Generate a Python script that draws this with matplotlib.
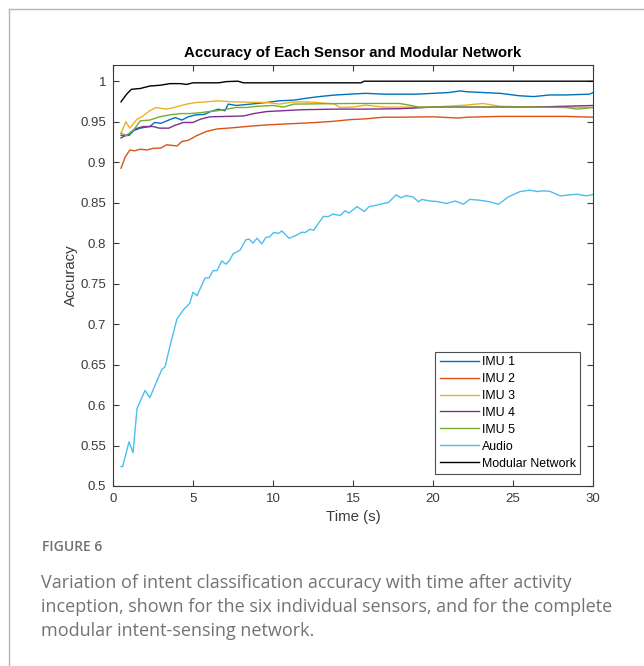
import matplotlib
matplotlib.use('Agg')
import matplotlib.pyplot as plt
from matplotlib.lines import Line2D

plt.rcParams['font.family'] = ['Liberation Sans', 'DejaVu Sans']

# Values (time in s, accuracy)
imu1_t = [0.5, 1.0, 1.3, 1.7, 2.3, 2.6, 3.0, 3.6, 3.9, 4.3, 4.7, 5.2, 5.7, 6.1, 6.6, 7.0, 7.2, 7.7, 8.6, 9.6,
          10.4, 11.3, 12.1, 12.9, 13.8, 14.8, 15.8, 16.9, 17.9, 19.0, 20.0, 21.0, 21.7, 22.1, 23.1, 24.2, 25.4,
          26.3, 27.3, 28.3, 29.8, 30.0]
imu1_acc = [0.933, 0.933, 0.939, 0.942, 0.944, 0.949, 0.948, 0.953, 0.955, 0.952, 0.956, 0.9585, 0.959, 0.9625,
            0.9655, 0.9635, 0.9717, 0.970, 0.9717, 0.9737, 0.9758, 0.9766, 0.979, 0.981, 0.9828, 0.984, 0.985,
            0.984, 0.984, 0.984, 0.985, 0.986, 0.988, 0.987, 0.986, 0.985, 0.982, 0.981, 0.983, 0.983, 0.984, 0.986]

imu2_t = [0.5, 0.75, 1.05, 1.35, 1.7, 2.1, 2.5, 3.0, 3.35, 4.0, 4.3, 4.7, 5.2, 5.85, 6.5, 7.5, 8.6, 9.6, 10.6,
          11.7, 12.7, 13.8, 14.8, 15.8, 16.9, 17.9, 20.0, 21.6, 22.1, 24.2, 26.3, 28.3, 30.0]
imu2_acc = [0.8925, 0.906, 0.915, 0.914, 0.916, 0.915, 0.917, 0.9175, 0.9215, 0.920, 0.9255, 0.927, 0.9325, 0.938,
            0.941, 0.9425, 0.9445, 0.946, 0.947, 0.948, 0.949, 0.9505, 0.9525, 0.9535, 0.9555, 0.9555, 0.956,
            0.9545, 0.9555, 0.9565, 0.9565, 0.9565, 0.9555]

imu3_t = [0.5, 0.8, 1.05, 1.5, 1.8, 2.3, 2.7, 3.35, 3.8, 4.6, 5.2, 5.85, 6.5, 7.5, 8.6, 9.6, 10.4, 11.1, 11.7,
          12.5, 13.8, 14.2, 15.0, 15.8, 16.9, 17.9, 20.0, 22.1, 23.1, 24.2, 26.3, 28.3, 30.0]
imu3_acc = [0.9356, 0.950, 0.942, 0.953, 0.956, 0.9635, 0.9675, 0.9655, 0.9675, 0.9717, 0.9737, 0.9745, 0.9758,
            0.9745, 0.974, 0.9737, 0.9717, 0.974, 0.9745, 0.974, 0.972, 0.9675, 0.968, 0.9705, 0.968, 0.968,
            0.968, 0.9705, 0.9725, 0.969, 0.968, 0.968, 0.9675]

imu4_t = [0.5, 1.0, 1.35, 1.9, 2.5, 2.9, 3.5, 3.8, 4.4, 5.0, 5.45, 6.05, 7.1, 8.15, 8.8, 9.6, 10.6, 11.7,
          13.8, 15.8, 17.9, 20.0, 22.1, 24.2, 26.3, 30.0]
imu4_acc = [0.930, 0.935, 0.941, 0.944, 0.944, 0.942, 0.942, 0.945, 0.949, 0.949, 0.953, 0.956, 0.9565, 0.957,
            0.960, 0.9625, 0.9635, 0.9647, 0.9655, 0.9655, 0.966, 0.968, 0.968, 0.968, 0.968, 0.970]

imu5_t = [0.5, 0.85, 1.3, 1.7, 2.3, 2.9, 3.6, 4.2, 4.8, 5.4, 6.0, 6.5, 7.1, 7.7, 8.35, 9.0, 10.0, 10.65, 11.3,
          12.7, 14.8, 17.9, 18.5, 19.1, 20.0, 22.1, 26.3, 28.3, 29.0, 30.0]
imu5_acc = [0.9356, 0.9327, 0.940, 0.951, 0.952, 0.956, 0.9585, 0.960, 0.960, 0.961, 0.9625, 0.9635, 0.9655,
            0.9675, 0.9675, 0.969, 0.970, 0.968, 0.9717, 0.972, 0.9725, 0.9725, 0.9705, 0.968, 0.968, 0.968,
            0.968, 0.9675, 0.9655, 0.9675]

audio_t = [0.5, 0.6, 1.0, 1.25, 1.5, 2.0, 2.3, 2.75, 3.05, 3.25, 3.55, 4.0, 4.4, 4.8, 5.0, 5.25, 5.75, 6.0,
           6.25, 6.5, 6.8, 7.05, 7.3, 7.5, 7.95, 8.3, 8.5, 8.75, 9.0, 9.3, 9.55, 9.8, 10.05, 10.35, 10.55, 11.0,
           11.5, 11.8, 12.0, 12.3, 12.55, 12.85, 13.15, 13.45, 13.75, 14.2, 14.5, 14.75, 15.25, 15.7, 16.0, 16.5,
           16.9, 17.2, 17.7, 18.0, 18.3, 18.75, 19.1, 19.3, 19.8, 20.2, 20.85, 21.4, 21.9, 22.3, 22.9, 23.55,
           24.1, 24.7, 25.45, 26.05, 26.5, 26.9, 27.3, 27.95, 28.3, 29.0, 29.6, 30.0]
audio_acc = [0.524, 0.524, 0.5546, 0.541, 0.5957, 0.618, 0.609, 0.630, 0.644, 0.647, 0.672, 0.7065, 0.7176,
             0.7258, 0.7393, 0.735, 0.757, 0.757, 0.766, 0.766, 0.778, 0.774, 0.779, 0.7866, 0.7915, 0.804,
             0.805, 0.800, 0.806, 0.799, 0.807, 0.808, 0.8132, 0.812, 0.815, 0.806, 0.810, 0.8135, 0.813, 0.817,
             0.816, 0.8247, 0.833, 0.8327, 0.836, 0.834, 0.840, 0.837, 0.8452, 0.839, 0.845, 0.847, 0.849, 0.850,
             0.8596, 0.856, 0.8586, 0.857, 0.851, 0.854, 0.852, 0.8515, 0.849, 0.852, 0.848, 0.854, 0.853, 0.851,
             0.848, 0.857, 0.8637, 0.8654, 0.8637, 0.8646, 0.864, 0.8584, 0.859, 0.8604, 0.8584, 0.860]

modular_t = [0.5, 0.85, 1.15, 1.7, 2.3, 2.95, 3.55, 4.2, 4.6, 5.0, 5.8, 6.6, 7.1, 7.8, 8.15, 9.0, 12.0, 15.5,
             15.7, 20.0, 25.0, 30.0]
modular_acc = [0.9745, 0.984, 0.990, 0.991, 0.994, 0.995, 0.997, 0.997, 0.996, 0.998, 0.998, 0.998, 0.9995,
               1.0, 0.998, 0.998, 0.998, 0.998, 1.0, 1.0, 1.0, 1.0]

series = [
    ('IMU 1', imu1_t, imu1_acc, '#0072BD'),
    ('IMU 2', imu2_t, imu2_acc, '#D95319'),
    ('IMU 3', imu3_t, imu3_acc, '#EDB120'),
    ('IMU 4', imu4_t, imu4_acc, '#7E2F8E'),
    ('IMU 5', imu5_t, imu5_acc, '#77AC30'),
    ('Audio', audio_t, audio_acc, '#4DBEEE'),
    ('Modular Network', modular_t, modular_acc, '#000000'),
]

axis_col = '#3a3a3a'

fig = plt.figure(figsize=(6.44, 6.66), dpi=100)
ax = fig.add_axes([0.1755, 0.2703, 0.7453, 0.6321])

for name, t, acc, col in series:
    ax.plot(t, acc, color=col, lw=1.0, label=name)

ax.set_xlim(0, 30)
ax.set_ylim(0.5, 1.02)
ax.set_xticks(range(0, 31, 5))
yt = [0.5 + 0.05 * i for i in range(11)]
ax.set_yticks(yt)
ax.set_yticklabels(['0.5', '0.55', '0.6', '0.65', '0.7', '0.75', '0.8', '0.85', '0.9', '0.95', '1'])
ax.tick_params(direction='in', length=4, width=0.8, top=True, right=True, pad=5,
               labelsize=9.5, colors=axis_col, labelcolor=axis_col)
for sp in ax.spines.values():
    sp.set_color(axis_col)
    sp.set_linewidth(0.8)

ax.set_title('Accuracy of Each Sensor and Modular Network', fontsize=10.8, fontweight='bold', pad=6)
ax.set_xlabel('Time (s)', fontsize=10.8, color=axis_col, labelpad=4)
ax.set_ylabel('Accuracy', fontsize=10.8, color=axis_col, labelpad=2)

leg = ax.legend(loc='lower right', bbox_to_anchor=(0.973, 0.0285), borderaxespad=0,
                fontsize=8.9, handlelength=3.2, handletextpad=0.2, labelspacing=0.4,
                fancybox=False, frameon=True, borderpad=0.35)
leg.get_frame().set_edgecolor('#222222')
leg.get_frame().set_linewidth(0.8)

# card border (top and left edges)
fig.add_artist(Line2D([9 / 644, 1.0], [1 - 9 / 666, 1 - 9 / 666], color='#b5b5b5', lw=1.0))
fig.add_artist(Line2D([9 / 644, 9 / 644], [0.0, 1 - 9 / 666], color='#b5b5b5', lw=1.0))

# caption
fig.text(42 / 644, 1 - 547 / 666, 'FIGURE 6', fontsize=10, color='#707070', fontweight='semibold',
         family=['Open Sans', 'DejaVu Sans'], va='center')
caption = ('Variation of intent classification accuracy with time after activity\n'
           'inception, shown for the six individual sensors, and for the complete\n'
           'modular intent-sensing network.')
fig.text(41 / 644, 1 - 574 / 666, caption, fontsize=13.0, color='#737373',
         family=['Open Sans', 'DejaVu Sans'], va='top', linespacing=1.43)

fig.savefig('out.png', dpi=100)
